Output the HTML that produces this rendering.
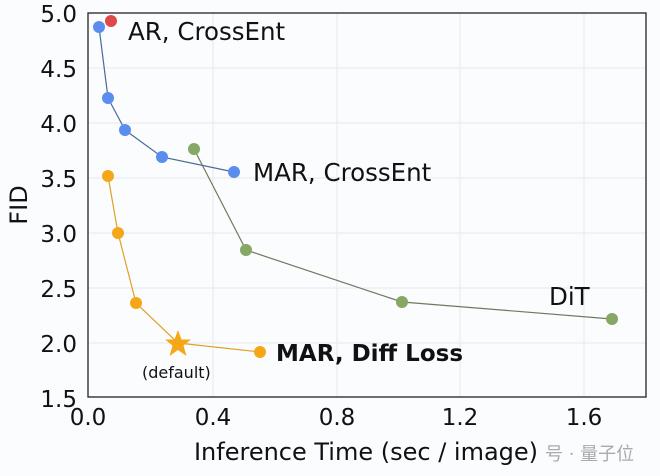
<!DOCTYPE html>
<html><head><meta charset="utf-8"><style>
html,body{margin:0;padding:0;background:#fbfcfd;}
svg{display:block;font-family:"DejaVu Sans","Liberation Sans",sans-serif;}
</style></head><body>
<svg width="660" height="476" viewBox="0 0 660 476" xmlns="http://www.w3.org/2000/svg">
<rect width="660" height="476" fill="#fbfcfd"/>
<g stroke="#e6e9ee" stroke-width="1">
<line x1="213" y1="13" x2="213" y2="397"/>
<line x1="337" y1="13" x2="337" y2="397"/>
<line x1="460" y1="13" x2="460" y2="397"/>
<line x1="584" y1="13" x2="584" y2="397"/>
<line x1="88" y1="68" x2="646" y2="68"/>
<line x1="88" y1="123" x2="646" y2="123"/>
<line x1="88" y1="178" x2="646" y2="178"/>
<line x1="88" y1="233" x2="646" y2="233"/>
<line x1="88" y1="288" x2="646" y2="288"/>
<line x1="88" y1="343" x2="646" y2="343"/>
</g>
<rect x="88" y="13" width="558" height="384" fill="none" stroke="#222" stroke-width="1.3"/>
<g font-size="23" fill="#111" text-anchor="end">
<text x="77" y="22">5.0</text>
<text x="77" y="77">4.5</text>
<text x="77" y="132">4.0</text>
<text x="77" y="187">3.5</text>
<text x="77" y="242">3.0</text>
<text x="77" y="297">2.5</text>
<text x="77" y="352">2.0</text>
<text x="77" y="407">1.5</text>
</g>
<g font-size="23" fill="#111" text-anchor="middle">
<text x="88" y="425">0.0</text>
<text x="213" y="425">0.4</text>
<text x="337" y="425">0.8</text>
<text x="460" y="425">1.2</text>
<text x="584" y="425">1.6</text>
<text x="366" y="460" font-size="24">Inference Time (sec / image)</text>
</g>
<text transform="translate(27,205) rotate(-90)" font-size="24" text-anchor="middle" fill="#111">FID</text>
<polyline points="194,149 246,250 402,302 612,319" fill="none" stroke="#6d7a60" stroke-width="1.2"/>
<g fill="#86a865"><circle cx="194" cy="149" r="6"/><circle cx="246" cy="250" r="6"/><circle cx="402" cy="302" r="6"/><circle cx="612" cy="319" r="6"/></g>
<polyline points="99,27 108,98 125,130 162,157 234,172" fill="none" stroke="#4a6a9a" stroke-width="1.2"/>
<g fill="#5b8def"><circle cx="99" cy="27" r="6"/><circle cx="108" cy="98" r="6"/><circle cx="125" cy="130" r="6"/><circle cx="162" cy="157" r="6"/><circle cx="234" cy="172" r="6"/></g>
<circle cx="111" cy="21" r="6" fill="#e04848"/>
<polyline points="108,176 118,233 136,303 178,343 260,352" fill="none" stroke="#e0a020" stroke-width="1.2"/>
<g fill="#f5a718"><circle cx="108" cy="176" r="6"/><circle cx="118" cy="233" r="6"/><circle cx="136" cy="303" r="6"/><circle cx="260" cy="352" r="6"/>
<polygon points="178,330 181.5,339.5 191,339.5 183.5,345.5 186.5,356 178,350 169.5,356 172.5,345.5 165,339.5 174.5,339.5"/></g>
<g fill="#111">
<text x="128" y="40" font-size="24.5">AR, CrossEnt</text>
<text x="253" y="181" font-size="24.5">MAR, CrossEnt</text>
<text x="549" y="305" font-size="24.5">DiT</text>
<text x="276" y="361" font-size="23" font-weight="bold">MAR, Diff Loss</text>
<text x="142" y="378" font-size="16">(default)</text>
</g>
<text x="545" y="460" font-size="18" fill="#aaa">号 · 量子位</text>
</svg>
</body></html>
